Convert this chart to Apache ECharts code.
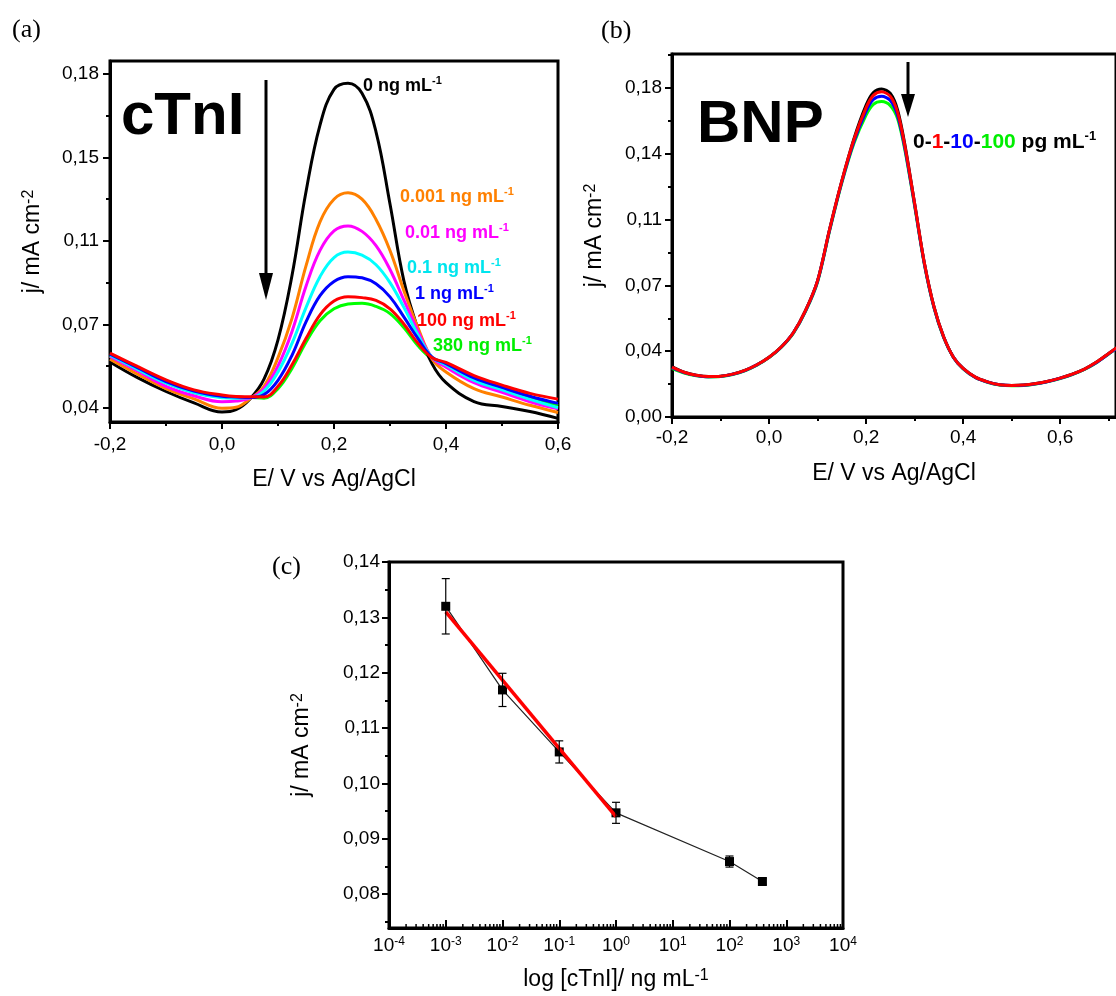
<!DOCTYPE html>
<html><head><meta charset="utf-8">
<script src="https://cdn.jsdelivr.net/npm/echarts@6/dist/echarts.min.js"></script>
<style>html,body{margin:0;padding:0;background:#fff}#c{width:1116px;height:996px}</style>
</head><body><div id="c"></div>
<script>
// ---------- Panel (a): cTnI DPV curves ----------
const aPotential = [-0.2,-0.15,-0.1,-0.05,0,0.025,0.05,0.075,0.1,0.125,0.15,0.175,0.2,0.225,0.25,0.275,0.3,0.325,0.35,0.375,0.4,0.45,0.5,0.55,0.6];
const a0ng    = [0.0592,0.0525,0.0468,0.042,0.0382,0.0392,0.0437,0.052,0.0685,0.0955,0.1306,0.1586,0.1736,0.1762,0.172,0.1558,0.1255,0.093,0.073,0.0585,0.0505,0.0426,0.0405,0.0384,0.0355];
const a0001ng = [0.0604,0.054,0.048,0.0437,0.0398,0.0402,0.0437,0.049,0.061,0.0775,0.0995,0.118,0.1275,0.1302,0.1275,0.119,0.106,0.089,0.0735,0.0605,0.055,0.048,0.0445,0.041,0.038];
const a001ng  = [0.0615,0.0553,0.049,0.045,0.0425,0.0428,0.044,0.048,0.0575,0.072,0.091,0.106,0.1142,0.1163,0.114,0.108,0.098,0.085,0.072,0.061,0.057,0.0505,0.0465,0.0425,0.0395];
const a01ng   = [0.062,0.056,0.0503,0.0463,0.0442,0.044,0.0442,0.047,0.055,0.067,0.082,0.095,0.103,0.1053,0.104,0.1,0.0925,0.082,0.0705,0.0612,0.058,0.0515,0.0475,0.0435,0.04];
const a1ng    = [0.0625,0.0567,0.051,0.047,0.0448,0.0445,0.0443,0.0455,0.0515,0.062,0.076,0.087,0.093,0.095,0.0945,0.092,0.0865,0.078,0.069,0.0612,0.0585,0.0525,0.0485,0.0448,0.0418];
const a100ng  = [0.0629,0.0572,0.0517,0.0475,0.0453,0.0447,0.0446,0.0445,0.049,0.058,0.069,0.079,0.0848,0.0866,0.0862,0.085,0.0815,0.075,0.067,0.061,0.059,0.0535,0.0495,0.046,0.0436];
const a380ng  = [0.0615,0.056,0.0505,0.0465,0.0445,0.0442,0.0443,0.044,0.048,0.0565,0.0675,0.0765,0.0815,0.0835,0.0838,0.0825,0.0795,0.0735,0.066,0.0605,0.058,0.052,0.048,0.0445,0.041];
const aYTickValues = [0.04,0.075,0.11,0.145,0.18];
const aYTickLabels = ['0,04','0,07','0,11','0,15','0,18'];
const aYMinorTicks = [0.0575,0.0925,0.1275,0.1625];

// ---------- Panel (b): BNP DPV curves ----------
const bPotential = [-0.2,-0.175,-0.15,-0.125,-0.1,-0.075,-0.05,-0.025,0,0.025,0.05,0.075,0.1,0.125,0.15,0.175,0.2,0.215,0.232,0.25,0.265,0.28,0.3,0.32,0.34,0.36,0.38,0.4,0.425,0.45,0.475,0.5,0.525,0.55,0.575,0.6,0.625,0.65,0.675,0.7,0.725,0.75];
const b0pg   = [0.0268,0.0238,0.0222,0.0215,0.0217,0.0228,0.0248,0.0278,0.0318,0.0372,0.0448,0.0565,0.0725,0.1,0.1255,0.148,0.1658,0.1725,0.1744,0.172,0.1632,0.1448,0.1135,0.082,0.0585,0.0425,0.0318,0.0258,0.0212,0.0187,0.0172,0.0168,0.017,0.0178,0.019,0.0207,0.0228,0.0255,0.0292,0.0338,0.0385,0.044];
const b1pg   = [0.0265,0.0238,0.0222,0.0215,0.0217,0.0228,0.0248,0.0278,0.0318,0.0372,0.0448,0.0565,0.0725,0.1,0.1255,0.1475,0.1645,0.171,0.1729,0.1705,0.162,0.144,0.1135,0.082,0.0585,0.0425,0.0318,0.0258,0.0212,0.0187,0.0172,0.0168,0.017,0.0178,0.019,0.0207,0.0228,0.0255,0.0292,0.0338,0.0385,0.044];
const b10pg  = [0.0262,0.0236,0.0221,0.0214,0.0216,0.0227,0.0247,0.0277,0.0317,0.0371,0.0447,0.0563,0.0722,0.0996,0.125,0.1465,0.1625,0.1688,0.1705,0.1683,0.1602,0.1428,0.1128,0.0815,0.0582,0.0423,0.0317,0.0257,0.0211,0.0186,0.0171,0.0167,0.0169,0.0177,0.0189,0.0206,0.0227,0.0254,0.029,0.0336,0.0383,0.0438];
const b100pg = [0.0258,0.0233,0.0219,0.0213,0.0215,0.0226,0.0246,0.0276,0.0316,0.037,0.0445,0.056,0.0718,0.0992,0.1245,0.1455,0.1605,0.1662,0.1677,0.1655,0.1585,0.1418,0.1122,0.0812,0.058,0.0421,0.0316,0.0256,0.021,0.0185,0.017,0.0166,0.0168,0.0176,0.0188,0.0205,0.0226,0.0253,0.0289,0.0335,0.0382,0.0436];
const bYTickValues = [0,0.035,0.07,0.105,0.14,0.175];
const bYTickLabels = ['0,00','0,04','0,07','0,11','0,14','0,18'];
const bYMinorTicks = [0.0175,0.0525,0.0875,0.1225,0.1575,0.1925];

// shared potential axis ticks
const xTickValues = [-0.2,0,0.2,0.4,0.6];
const xTickLabels = ['-0,2','0,0','0,2','0,4','0,6'];
const xMinorTicks = [-0.1,0.1,0.3,0.5,0.7];

// ---------- Panel (c): calibration ----------
const cConcentration = [0.001,0.01,0.1,1,100,380];
const cCurrent = [0.132,0.1169,0.1057,0.0947,0.0859,0.0823];
const cError = [0.005,0.003,0.002,0.0019,0.001,0.0005];
const cFitConcentration = [0.001,1];
const cFitCurrent = [0.131,0.094];
const cYTickValues = [0.08,0.09,0.10,0.11,0.12,0.13,0.14];
const cYTickLabels = ['0,08','0,09','0,10','0,11','0,12','0,13','0,14'];
const cYMinorTicks = [0.075,0.085,0.095,0.105,0.115,0.125,0.135];
const cYMin = 0.0739;

const SANS = '"Liberation Sans", Arial, sans-serif';
const SERIF = '"Liberation Serif", "Times New Roman", serif';

function pairs(xs, ys){ return xs.map((x,i)=>[x, ys[i]]); }
function lookup(values, labels){
  return function(v){
    let k=-1, d=Infinity;
    values.forEach((t,i)=>{ const e=Math.abs(t-v); if(e<d){d=e;k=i;} });
    return d < 1e-7 ? labels[k] : '';
  };
}
const supRich = { s: { fontSize: 16, verticalAlign: 'top', fontFamily: SANS, color:'#000' } };

function majorAxis(o){
  return Object.assign({
    type:'value', splitLine:{show:false},
    axisLine:{show:true, onZero:false, lineStyle:{color:'#000', width:3}},
    axisTick:{show:true, length:7, lineStyle:{color:'#000', width:2}},
    axisLabel:{color:'#000', fontSize:19, fontFamily:SANS},
    nameLocation:'middle',
    nameTextStyle:{color:'#000', fontSize:23, fontFamily:SANS, rich: supRich}
  }, o);
}
function minorAxis(o, ticks){
  return Object.assign({
    type:'value', splitLine:{show:false},
    axisLine:{show:false, onZero:false},
    axisTick:{show:true, length:4, customValues:ticks, lineStyle:{color:'#000', width:2}},
    axisLabel:{show:false}
  }, o);
}

const aLines = [
  {d:a380ng, c:'#00ff00'}, {d:a0ng, c:'#000000'}, {d:a0001ng, c:'#ff8000'},
  {d:a001ng, c:'#ff00ff'}, {d:a01ng, c:'#00ffff'}, {d:a1ng, c:'#0000ff'}, {d:a100ng, c:'#ff0000'}
];
const bLines = [
  {d:b0pg, c:'#000000'}, {d:b100pg, c:'#00ff00'}, {d:b10pg, c:'#0000ff'}, {d:b1pg, c:'#ff0000'}
];

const series = [];
aLines.forEach(l => series.push({
  type:'line', xAxisIndex:0, yAxisIndex:0, data:pairs(aPotential, l.d),
  showSymbol:false, smooth:0.4, lineStyle:{color:l.c, width:3}, itemStyle:{color:l.c}, silent:true
}));
bLines.forEach(l => series.push({
  type:'line', xAxisIndex:2, yAxisIndex:2, data:pairs(bPotential, l.d),
  showSymbol:false, smooth:0.3, lineStyle:{color:l.c, width:3}, itemStyle:{color:l.c}, silent:true
}));
// panel c
series.push({
  type:'line', xAxisIndex:4, yAxisIndex:4, data:pairs(cConcentration, cCurrent),
  symbol:'rect', symbolSize:9, itemStyle:{color:'#000'}, lineStyle:{color:'#222', width:1.2}, z:3
});
series.push({
  type:'line', xAxisIndex:4, yAxisIndex:4, data:pairs(cFitConcentration, cFitCurrent),
  showSymbol:false, lineStyle:{color:'#ff0000', width:3.5}, z:4
});
series.push({
  type:'custom', xAxisIndex:4, yAxisIndex:4,
  data: cConcentration.map((x,i)=>[x, cCurrent[i], cError[i]]),
  encode:{x:0, y:1}, z:5,
  renderItem: function(params, api){
    const x = api.value(0), y = api.value(1), e = api.value(2);
    const t = api.coord([x, y+e]), b = api.coord([x, y-e]);
    const w = 4, st = {stroke:'#000', lineWidth:1.2};
    return {type:'group', children:[
      {type:'line', shape:{x1:t[0],y1:t[1],x2:b[0],y2:b[1]}, style:st},
      {type:'line', shape:{x1:t[0]-w,y1:t[1],x2:t[0]+w,y2:t[1]}, style:st},
      {type:'line', shape:{x1:b[0]-w,y1:b[1],x2:b[0]+w,y2:b[1]}, style:st}
    ]};
  }
});
// log-axis minor ticks (axis decoration)
const cMinorLogTicks = [];
for (let k=-4; k<4; k++) for (let m=2; m<=9; m++) cMinorLogTicks.push(m*Math.pow(10,k));
series.push({
  type:'custom', xAxisIndex:4, yAxisIndex:4, silent:true, clip:false, z:6,
  data: cMinorLogTicks.map(v=>[v, cYMin]), encode:{x:0, y:1},
  renderItem: function(params, api){
    const p = api.coord([api.value(0), cYMin]);
    return {type:'line', shape:{x1:p[0], y1:p[1], x2:p[0], y2:p[1]-4}, style:{stroke:'#000', lineWidth:1.5}};
  }
});

const lbl = (x, y, text, color) => ({
  type:'text', x:x, y:y, z:100,
  style:{ text:'{b|'+text+'}{s|-1}', align:'left', verticalAlign:'middle',
    rich:{ b:{fontSize:18, fontWeight:'bold', fontFamily:SANS, fill:color, color:color, lineHeight:21},
           s:{fontSize:11, fontWeight:'bold', fontFamily:SANS, fill:color, color:color, verticalAlign:'top'} } }
});

const option = {
  animation:false,
  backgroundColor:'#fff',
  grid:[
    {left:110, top:61, width:448, height:361, show:true, borderColor:'#000', borderWidth:3, backgroundColor:'transparent'},
    {left:672, top:54, width:445, height:363, show:true, borderColor:'#000', borderWidth:3, backgroundColor:'transparent'},
    {left:389, top:562, width:454, height:366, show:true, borderColor:'#000', borderWidth:3, backgroundColor:'transparent'}
  ],
  xAxis:[
    majorAxis({gridIndex:0, position:'bottom', min:-0.2, max:0.6,
      axisTick:{show:true, length:7, customValues:xTickValues, lineStyle:{color:'#000', width:2}},
      axisLabel:{color:'#000', fontSize:19, fontFamily:SANS, margin:13, customValues:xTickValues, formatter:lookup(xTickValues, xTickLabels)},
      name:'E/ V vs Ag/AgCl', nameGap:46}),
    minorAxis({gridIndex:0, position:'bottom', min:-0.2, max:0.6}, xMinorTicks.filter(v=>v<0.6)),
    majorAxis({gridIndex:1, position:'bottom', min:-0.2, max:0.715,
      axisTick:{show:true, length:7, customValues:xTickValues, lineStyle:{color:'#000', width:2}},
      axisLabel:{color:'#000', fontSize:19, fontFamily:SANS, margin:11, customValues:xTickValues, formatter:lookup(xTickValues, xTickLabels)},
      name:'E/ V vs Ag/AgCl', nameGap:45}),
    minorAxis({gridIndex:1, position:'bottom', min:-0.2, max:0.715}, xMinorTicks),
    {type:'log', logBase:10, gridIndex:2, position:'bottom', min:0.0001, max:10000, splitNumber:8,
      splitLine:{show:false}, minorTick:{show:false},
      axisLine:{show:true, onZero:false, lineStyle:{color:'#000', width:3}},
      axisTick:{show:true, inside:true, length:8, lineStyle:{color:'#000', width:2}},
      axisLabel:{color:'#000', fontSize:19, fontFamily:SANS, margin:8,
        formatter: v => '10{s|' + Math.round(Math.log10(v)) + '}',
        rich:{ s:{fontSize:12, verticalAlign:'top', fontFamily:SANS, color:'#000'} }},
      name:'log [cTnI]/ ng mL{s|-1}', nameLocation:'middle', nameGap:40,
      nameTextStyle:{color:'#000', fontSize:23, fontFamily:SANS, rich: supRich}}
  ],
  yAxis:[
    majorAxis({gridIndex:0, position:'left', min:0.034, max:0.1855,
      axisTick:{show:true, length:7, customValues:aYTickValues, lineStyle:{color:'#000', width:2}},
      axisLabel:{color:'#000', fontSize:19, fontFamily:SANS, margin:11, customValues:aYTickValues, formatter:lookup(aYTickValues, aYTickLabels)},
      name:'j/ mA cm{s|-2}', nameGap:66}),
    minorAxis({gridIndex:0, position:'left', min:0.034, max:0.1855}, aYMinorTicks),
    majorAxis({gridIndex:1, position:'left', min:0, max:0.193,
      axisTick:{show:true, length:7, customValues:bYTickValues, lineStyle:{color:'#000', width:2}},
      axisLabel:{color:'#000', fontSize:19, fontFamily:SANS, margin:10, customValues:bYTickValues, formatter:lookup(bYTickValues, bYTickLabels)},
      name:'j/ mA cm{s|-2}', nameGap:66}),
    minorAxis({gridIndex:1, position:'left', min:0, max:0.193}, bYMinorTicks),
    majorAxis({gridIndex:2, position:'left', min:cYMin, max:0.14,
      axisTick:{show:true, length:7, customValues:cYTickValues, lineStyle:{color:'#000', width:2}},
      axisLabel:{color:'#000', fontSize:19, fontFamily:SANS, margin:9, customValues:cYTickValues, formatter:lookup(cYTickValues, cYTickLabels)},
      name:'j/ mA cm{s|-2}', nameGap:76}),
    minorAxis({gridIndex:2, position:'left', min:cYMin, max:0.14}, cYMinorTicks)
  ],
  series: series,
  graphic:[
    {type:'text', x:12, y:30, style:{text:'(a)', font:'26px '+SERIF, fill:'#000', verticalAlign:'middle'}},
    {type:'text', x:601, y:31, style:{text:'(b)', font:'26px '+SERIF, fill:'#000', verticalAlign:'middle'}},
    {type:'text', x:272, y:567, style:{text:'(c)', font:'26px '+SERIF, fill:'#000', verticalAlign:'middle'}},
    {type:'text', x:121, y:117, style:{text:'cTnI', font:'bold 60px '+SANS, fill:'#000', verticalAlign:'middle'}},
    {type:'text', x:697, y:125, style:{text:'BNP', font:'bold 60px '+SANS, fill:'#000', verticalAlign:'middle'}},
    {type:'line', shape:{x1:266, y1:80, x2:266, y2:280}, style:{stroke:'#000', lineWidth:3}},
    {type:'polygon', shape:{points:[[259,273],[273,273],[266,300]]}, style:{fill:'#000'}},
    {type:'line', shape:{x1:908, y1:62, x2:908, y2:100}, style:{stroke:'#000', lineWidth:3}},
    {type:'polygon', shape:{points:[[901,94],[915,94],[908,117]]}, style:{fill:'#000'}},
    lbl(363, 86, '0 ng mL', '#000000'),
    lbl(400, 197, '0.001 ng mL', '#ff8000'),
    lbl(405, 233, '0.01 ng mL', '#ff00ff'),
    lbl(407, 268, '0.1 ng mL', '#00e5ee'),
    lbl(415, 294, '1 ng mL', '#0000ff'),
    lbl(417, 321, '100 ng mL', '#ff0000'),
    lbl(433, 346, '380 ng mL', '#00ee00'),
    {type:'text', x:913, y:142, z:100, style:{
      text:'{k|0-}{r|1}{k|-}{u|10}{k|-}{g|100}{k| pg mL}{s|-1}', align:'left', verticalAlign:'middle',
      rich:{
        k:{fontSize:21, fontWeight:'bold', fontFamily:SANS, fill:'#000', color:'#000', lineHeight:24},
        r:{fontSize:21, fontWeight:'bold', fontFamily:SANS, fill:'#ff0000', color:'#ff0000', lineHeight:24},
        u:{fontSize:21, fontWeight:'bold', fontFamily:SANS, fill:'#0000ff', color:'#0000ff', lineHeight:24},
        g:{fontSize:21, fontWeight:'bold', fontFamily:SANS, fill:'#00ee00', color:'#00ee00', lineHeight:24},
        s:{fontSize:13, fontWeight:'bold', fontFamily:SANS, fill:'#000', color:'#000', verticalAlign:'top'}
      }}}
  ]
};
const chart = echarts.init(document.getElementById('c'), null, {renderer:'canvas'});
chart.setOption(option);
</script></body></html>
